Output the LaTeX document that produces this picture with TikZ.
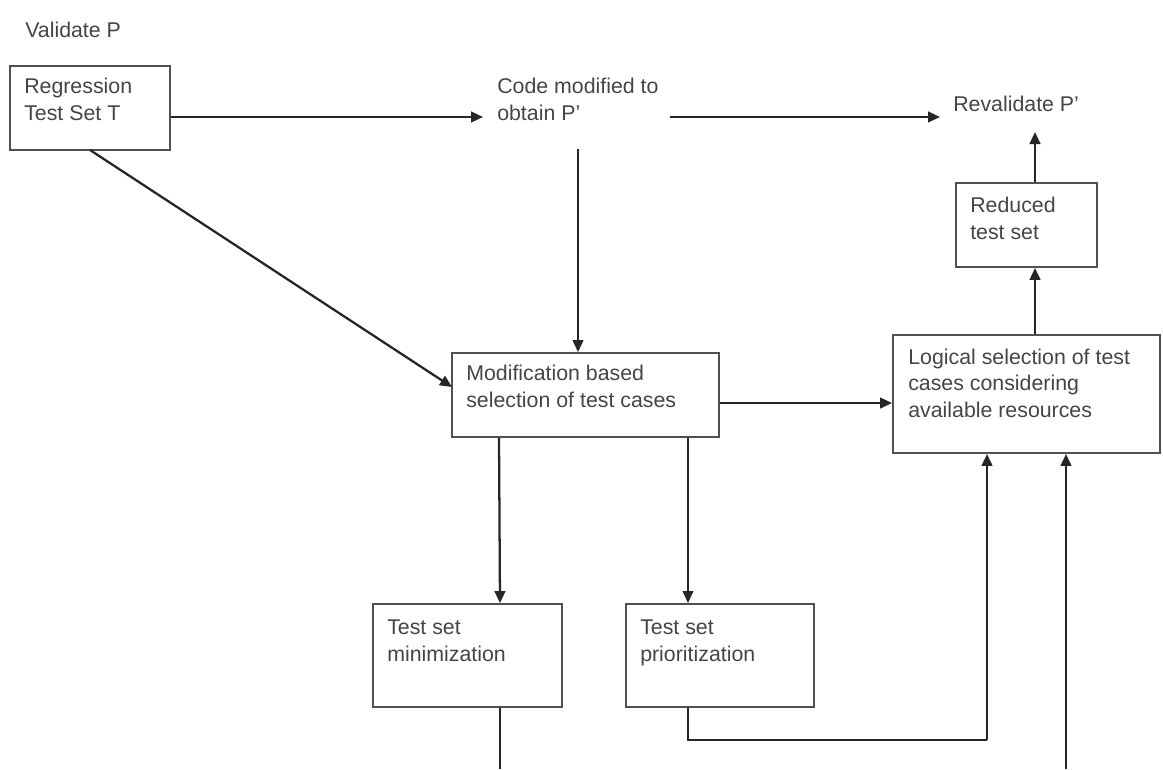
\documentclass[tikz,border=0pt]{standalone}
\usepackage{fontspec}
\setmainfont{Liberation Sans}
\usetikzlibrary{arrows.meta,calc}

\definecolor{txt}{HTML}{454545}
\definecolor{ln}{HTML}{262626}
\definecolor{bx}{HTML}{505050}

\tikzset{
  procbox/.style={draw=bx, line width=1.4pt, inner sep=0pt, minimum width=#1},
  % multi-line labels are placed by the baseline of their last line
  lbl/.style={anchor=base west, inner sep=0pt, text=txt, align=left,
    font=\fontsize{16}{19.8}\selectfont},
  arr/.style={draw=ln, line width=1.7pt, -{Triangle[length=9pt,width=8pt]}},
  thinarr/.style={draw=ln, line width=1pt, -{Triangle[length=9pt,width=8pt]}},
  thinline/.style={draw=ln, line width=0.9pt},
}

\begin{document}
\begin{tikzpicture}[x=0.75pt, y=-0.75pt]
  \useasboundingbox[fill=white] (0,0) rectangle (1163,769);

  % process boxes
  \node[procbox=160*0.75pt, minimum height=84*0.75pt]  (reg)   at (90,108)    {};
  \node[procbox=267*0.75pt, minimum height=84*0.75pt]  (mod)   at (585.5,395) {};
  \node[procbox=267*0.75pt, minimum height=118*0.75pt] (logic) at (1026.5,394) {};
  \node[procbox=141*0.75pt, minimum height=84*0.75pt]  (red)   at (1026.5,225) {};
  \node[procbox=189*0.75pt, minimum height=103*0.75pt] (mini)  at (467.5,655.5) {};
  \node[procbox=188*0.75pt, minimum height=103*0.75pt] (prio)  at (720,655.5) {};

  % texts
  \node[lbl] (validate) at (25,37)   {Validate P};
  \node[lbl] (regtxt)   at (24,120)  {Regression\\Test Set T};
  \node[lbl] (code)     at (497,120) {Code modified to\\obtain P'};
  \node[lbl] (reval)    at (953,111) {Revalidate P'};
  \node[lbl] (redtxt)   at (970,239) {Reduced\\test set};
  \node[lbl] (modtxt)   at (466,407) {Modification based\\selection of test cases};
  \node[lbl] (logtxt)   at (908,417) {Logical selection of test\\cases considering\\available resources};
  \node[lbl] (mintxt)   at (387,661) {Test set\\minimization};
  \node[lbl] (priotxt)  at (640,661) {Test set\\prioritization};

  % free ends and bends of connectors
  \coordinate (codein)   at (483,117);
  \coordinate (codeout)  at (670,117);
  \coordinate (revalin)  at (940,117);
  \coordinate (revalbot) at (1035,132);
  \coordinate (codebot)  at (578,149);
  \coordinate (regbot)   at (90,150);
  \coordinate (modin)    at (452,387);
  \coordinate (minbot)   at (500,769);
  \coordinate (bend1)    at (688,740);
  \coordinate (bend2)    at (987,740);
  \coordinate (feed)     at (1066,769);

  % connectors
  \draw[arr] (reg.east |- codein) -- (codein);
  \draw[arr] (codeout) -- (revalin);
  \draw[arr] (codebot) -- (codebot |- mod.north);
  \draw[arr] (regbot) -- (modin);
  \draw[arr] ($(mod.east)+(0,8)$) -- ($(logic.west)+(0,9)$);
  \draw[arr] (red.north -| revalbot) -- (revalbot);
  \draw[arr] (logic.north -| revalbot) -- (red.south -| revalbot);
  \draw[arr] ($(mod.south)+(-86.5,0)$) -- ($(mini.north)+(32.5,0)$);
  \draw[thinarr] ($(mod.south)+(102.5,0)$) -- (bend1 |- prio.north);
  \draw[thinline] (mini.south -| minbot) -- (minbot);
  \draw[thinline] (prio.south -| bend1) -- (bend1) -- (bend2);
  \draw[arr] (bend2) -- (bend2 |- logic.south);
  \draw[arr] (feed) -- (feed |- logic.south);
\end{tikzpicture}
\end{document}
